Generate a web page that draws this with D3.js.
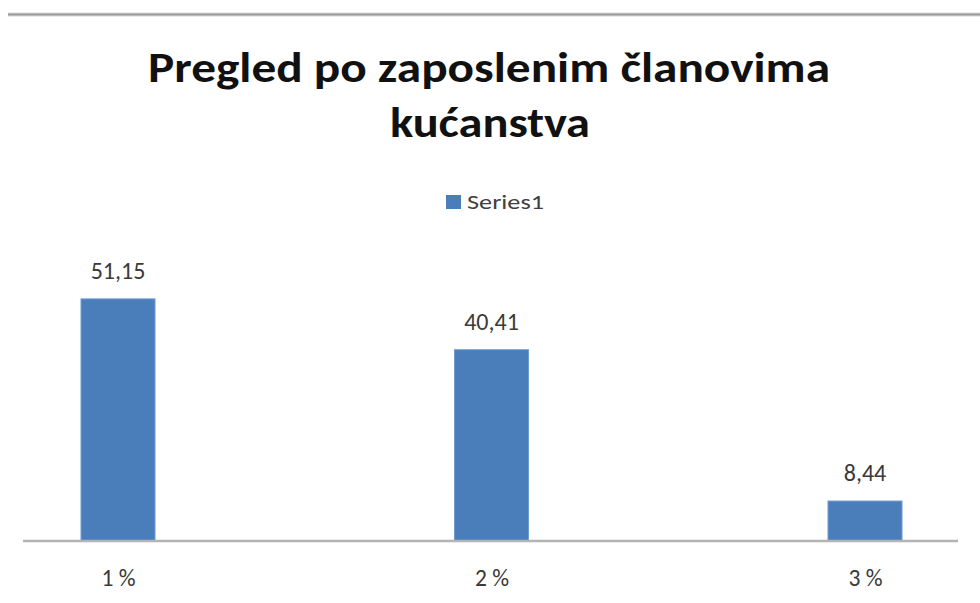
<!DOCTYPE html>
<html>
<head>
<meta charset="utf-8">
<script src="https://cdn.jsdelivr.net/npm/d3@7"></script>
<style>
  html, body { margin: 0; padding: 0; background: #fff; }
  svg { display: block; }
  text { font-family: Carlito, Calibri, Lato, "Open Sans", sans-serif; }
</style>
</head>
<body>
<svg id="chart" width="980" height="603"></svg>
<script>
// Chart data
const categories = ["1 %", "2 %", "3 %"];
const values = [51.15, 40.41, 8.44];
const valueLabels = ["51,15", "40,41", "8,44"];
const seriesName = "Series1";
const titleLines = ["Pregled po zaposlenim članovima", "kućanstva"];

const svg = d3.select("#chart");
const W = 980, H = 603;
const barColor = "#4a7ebb";
const labelFont = "Carlito, Calibri, Lato, 'Open Sans', sans-serif";

// Frame line along the top
svg.append("rect").attr("x", 8).attr("y", 12.5).attr("width", W - 8).attr("height", 4)
  .attr("fill", "#d8d8d8");
svg.append("rect").attr("x", 8).attr("y", 13.5).attr("width", W - 8).attr("height", 2)
  .attr("fill", "#9a9a9a");

// Title
const title = svg.append("g");
title.append("text")
  .attr("x", 489).attr("y", 82)
  .attr("text-anchor", "middle")
  .attr("font-size", 42).attr("font-weight", "bold").attr("fill", "#111")
  .attr("textLength", 682).attr("lengthAdjust", "spacingAndGlyphs")
  .text(titleLines[0]);
title.append("text")
  .attr("x", 490).attr("y", 137)
  .attr("text-anchor", "middle")
  .attr("font-size", 42).attr("font-weight", "bold").attr("fill", "#111")
  .attr("textLength", 200).attr("lengthAdjust", "spacingAndGlyphs")
  .text(titleLines[1]);

// Legend
const legend = svg.append("g");
legend.append("rect").attr("x", 446).attr("y", 195).attr("width", 15).attr("height", 14)
  .attr("fill", barColor);
legend.append("text").attr("x", 467).attr("y", 209)
  .attr("font-size", 20.5).attr("fill", "#404040")
  .attr("textLength", 77).attr("lengthAdjust", "spacingAndGlyphs")
  .text(seriesName);

// Scales
const x = d3.scalePoint().domain(categories).range([118, 865]);
const y = d3.scaleLinear().domain([0, 60]).range([541, 257]);
const barW = 74;

// Bars
svg.append("g").selectAll("rect")
  .data(values)
  .join("rect")
  .attr("x", (d, i) => x(categories[i]) - barW / 2)
  .attr("y", d => y(d))
  .attr("width", barW)
  .attr("height", d => y(0) - y(d))
  .attr("fill", barColor)
  .attr("stroke", "#6f9bd1")
  .attr("stroke-width", 1);

// Value labels
svg.append("g").selectAll("text")
  .data(values)
  .join("text")
  .attr("x", (d, i) => x(categories[i]))
  .attr("y", d => y(d) - 20)
  .attr("text-anchor", "middle")
  .attr("font-size", 24).attr("fill", "#3a3a3a")
  .text((d, i) => valueLabels[i]);

// Category axis
const axis = svg.append("g").attr("transform", `translate(0,${y(0)})`)
  .call(d3.axisBottom(x).tickSize(0).tickPadding(0));
axis.select(".domain").remove();
axis.append("line").attr("x1", 23).attr("x2", 958).attr("y1", 0).attr("y2", 0)
  .attr("stroke", "#b4b4b4").attr("stroke-width", 2.5);
axis.selectAll(".tick text")
  .attr("y", 45).attr("dy", null)
  .attr("font-size", 23.5).attr("fill", "#3a3a3a")
  .attr("font-family", labelFont);
</script>
</body>
</html>
